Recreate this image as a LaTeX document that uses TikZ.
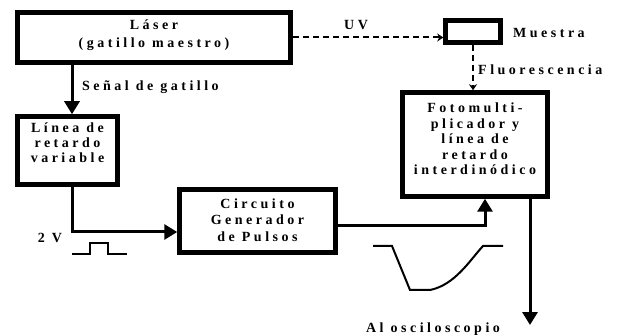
\documentclass[tikz,border=0pt]{standalone}
\usepackage{fontspec}
\setmainfont{Liberation Serif}[LetterSpace=25]
\usetikzlibrary{arrows.meta}
\begin{document}
\begin{tikzpicture}[x=1pt,y=-1pt,
  box/.style={draw,line width=4.5pt,inner sep=0pt},
  txt/.style={inner sep=0pt,align=center,font=\fontsize{14}{#1}\selectfont\bfseries},
  txt/.default=15,
  lbl/.style={inner sep=0pt,font=\fontsize{14}{15}\selectfont\bfseries},
  conn/.style={line width=3pt,-{Triangle[width=15pt,length=13pt]}},
  dconn/.style={line width=2pt,dash pattern=on 6pt off 4pt,-{Stealth[width=8pt,length=6pt]}},
  wave/.style={line width=2pt}]
\useasboundingbox (0,0) rectangle (623,336);
\node[box,minimum width=273pt,minimum height=50pt] (laser) at (154,37.5) {};
\node[txt=18] (lasertxt) at (154,35) {Láser\\(gatillo maestro)};
\node[box,minimum width=55pt,minimum height=22pt] (muestra) at (473,31.5) {};
\node[box,minimum width=145pt,minimum height=104pt] (foto) at (475,144.5) {};
\node[txt=15.5] (fototxt) at (475,139) {Fotomulti-\\plicador y\\línea de\\retardo\\interdinódico};
\node[box,minimum width=100pt,minimum height=68pt] (linea) at (67.5,150.5) {};
\node[txt=15] (lineatxt) at (67.5,143) {Línea de\\retardo\\variable};
\node[box,minimum width=156pt,minimum height=63pt] (circ) at (257.5,221) {};
\node[txt=16.5] (circtxt) at (257.5,220) {Circuito\\Generador\\de Pulsos};
% labels
\node[lbl,anchor=west] (senal) at (82,87) {Señal de gatillo};
\node[lbl] (uv) at (356,25) {UV};
\node[lbl,anchor=west] (mlab) at (513,33) {Muestra};
\node[lbl,anchor=west] (flab) at (478,70) {Fluorescencia};
\node[lbl] (dosv) at (50,238) {2 V};
\node[lbl] (osc) at (433,329) {Al osciloscopio};
% connectors
\coordinate (tdown) at ([xshift=4.5pt]linea.north);
\draw[conn] (laser.south -| tdown) -- (tdown);
\coordinate (bend1) at (72,232);
\coordinate (cin) at (bend1 -| circ.west);
\draw[conn] ([xshift=4.5pt]linea.south) -- (bend1) -- (cin);
\coordinate (cout) at (circ.east |- 0,226);
\coordinate (fin) at (485,0 |- foto.south);
\draw[conn] (cout) -- (cout -| fin) -- (fin);
\coordinate (fout) at (530,0 |- foto.south);
\coordinate (oscend) at (530,325);
\draw[conn] (fout) -- (oscend);
\draw[dconn] (laser.east) -- (laser.east -| muestra.west);
\draw[dconn] (muestra.south) -- (muestra.south |- foto.north);
% waveforms
\draw[wave] (72,254) -- (90,254) -- (90,243) -- (108,243) -- (108,254) -- (127,254);
\draw[wave] (373,246) -- (392,246) -- (410,290) -- (430,290) .. controls (455,285) and (470,260) .. (483,246) -- (503,246);
\end{tikzpicture}
\end{document}
